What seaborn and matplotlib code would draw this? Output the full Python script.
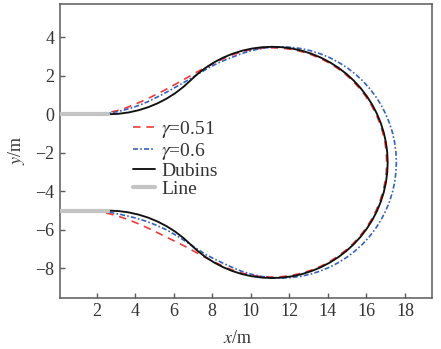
import matplotlib
matplotlib.use("Agg")
import matplotlib.pyplot as plt
import pandas as pd
import seaborn as sns

# ---- path coordinates (m) ----
dubins_x = [2.6, 3.129, 3.654, 4.171, 4.676, 5.165, 5.635, 6.082, 6.502, 6.877,
            7.243, 7.659, 8.1, 8.564, 9.048, 9.547, 10.058, 10.577, 11.1,
            11.623, 12.142, 12.653, 13.152, 13.636, 14.1, 14.541, 14.957, 15.343,
            15.696, 16.015, 16.296, 16.538, 16.738, 16.896, 17.009, 17.077, 17.1,
            17.077, 17.009, 16.896, 16.738, 16.538, 16.296, 16.015, 15.696, 15.343,
            14.957, 14.541, 14.1, 13.636, 13.152, 12.653, 12.142, 11.623, 11.1,
            10.577, 10.058, 9.547, 9.048, 8.564, 8.1, 7.659, 7.243,
            6.877, 6.502, 6.082, 5.635, 5.165, 4.676, 4.171, 3.654, 3.129, 2.6]
dubins_y = [0.0, 0.023, 0.092, 0.207, 0.366, 0.569, 0.813, 1.097, 1.420, 1.763,
            2.096, 2.415, 2.696, 2.938, 3.138, 3.296, 3.409, 3.477, 3.5,
            3.477, 3.409, 3.296, 3.138, 2.938, 2.696, 2.415, 2.096, 1.743,
            1.357, 0.941, 0.5, 0.036, -0.448, -0.947, -1.458, -1.977, -2.5,
            -3.023, -3.542, -4.053, -4.552, -5.036, -5.5, -5.941, -6.357, -6.743,
            -7.096, -7.415, -7.696, -7.938, -8.138, -8.296, -8.409, -8.477, -8.5,
            -8.477, -8.409, -8.296, -8.138, -7.938, -7.696, -7.415, -7.096,
            -6.763, -6.420, -6.097, -5.813, -5.569, -5.366, -5.207, -5.092, -5.023, -5.0]

gamma051_x = [0.0, 1.2, 1.8, 2.2, 2.7, 3.21, 3.7, 4.25, 4.75, 5.28, 5.8, 6.32, 6.85,
              7.36, 7.85, 8.307, 8.586, 9.065, 9.56, 10.067, 10.581, 11.1,
              11.619, 12.133, 12.64, 13.135, 13.614, 14.075, 14.513, 14.925, 15.307,
              15.658, 15.974, 16.253, 16.493, 16.691, 16.847, 16.960, 17.027, 17.05,
              17.027, 16.960, 16.847, 16.691, 16.493, 16.253, 15.974, 15.658, 15.307,
              14.925, 14.513, 14.075, 13.614, 13.135, 12.64, 12.133, 11.619, 11.1,
              10.581, 10.067, 9.56, 9.065, 8.7, 8.39, 7.95, 7.53, 7.1, 6.67, 6.15,
              5.63, 5.1, 4.6, 4.08, 3.56, 3.05, 2.6, 2.2, 1.8, 1.2, 0.0]
gamma051_y = [0.0, 0.0, 0.02, 0.05, 0.11, 0.22, 0.4, 0.63, 0.86, 1.12, 1.4, 1.69, 1.99,
              2.28, 2.52, 2.753, 2.893, 3.091, 3.247, 3.360, 3.427, 3.45,
              3.427, 3.360, 3.247, 3.091, 2.893, 2.653, 2.374, 2.058, 1.707,
              1.325, 0.913, 0.475, 0.014, -0.465, -0.960, -1.467, -1.981, -2.5,
              -3.019, -3.533, -4.040, -4.535, -5.014, -5.475, -5.913, -6.325, -6.707,
              -7.058, -7.374, -7.653, -7.893, -8.091, -8.247, -8.360, -8.427, -8.45,
              -8.427, -8.360, -8.247, -8.091, -7.955, -7.8, -7.6, -7.38, -7.14, -6.9,
              -6.64, -6.38, -6.12, -5.88, -5.65, -5.44, -5.27, -5.15, -5.08, -5.03,
              -5.0, -5.0]

gamma06_x = [0.0, 2.0, 2.35, 2.7, 3.1, 3.5, 3.9, 4.25, 4.65, 5.0, 5.4, 5.8, 6.3, 6.85,
             7.35, 7.87, 8.3, 8.7, 9.302, 9.498, 9.997, 10.508, 11.027, 11.55,
             12.073, 12.592, 13.103, 13.602, 14.086, 14.55, 14.991, 15.407, 15.793,
             16.146, 16.465, 16.746, 16.988, 17.188, 17.346, 17.459, 17.527, 17.55,
             17.527, 17.459, 17.346, 17.188, 16.988, 16.746, 16.465, 16.146, 15.793,
             15.407, 14.991, 14.55, 14.086, 13.602, 13.103, 12.592, 12.073, 11.55,
             11.027, 10.508, 9.997, 9.498, 9.014, 8.74, 8.2, 7.7, 7.2, 6.67, 6.15,
             5.63, 5.1, 4.59, 4.08, 3.56, 3.1, 2.7, 2.3, 2.0, 0.0]
gamma06_y = [0.0, 0.0, 0.03, 0.07, 0.14, 0.24, 0.36, 0.48, 0.65, 0.82, 1.02, 1.24, 1.52,
             1.84, 2.14, 2.44, 2.66, 2.83, 3.063, 3.138, 3.296, 3.409, 3.477, 3.5,
             3.477, 3.409, 3.296, 3.138, 2.938, 2.696, 2.415, 2.096, 1.743,
             1.357, 0.941, 0.5, 0.036, -0.448, -0.947, -1.458, -1.977, -2.5,
             -3.023, -3.542, -4.053, -4.552, -5.036, -5.5, -5.941, -6.357, -6.743,
             -7.096, -7.415, -7.696, -7.938, -8.138, -8.296, -8.409, -8.477, -8.5,
             -8.477, -8.409, -8.296, -8.138, -7.938, -7.815, -7.56, -7.3, -6.98, -6.63,
             -6.3, -6.0, -5.76, -5.56, -5.4, -5.27, -5.17, -5.09, -5.03, -5.0, -5.0]

line_x = [0.0, 2.6, 0.0, 2.6]
line_y = [0.0, 0.0, -5.0, -5.0]
line_seg = [0, 0, 1, 1]

x_ticks = [2, 4, 6, 8, 10, 12, 14, 16, 18]
y_ticks = [-8, -6, -4, -2, 0, 2, 4]

# ---- style ----
sns.set_style("ticks")
plt.rcParams["font.family"] = ["Liberation Serif", "DejaVu Serif"]
plt.rcParams["mathtext.fontset"] = "stix"

fig = plt.figure(figsize=(4.41, 3.49), dpi=100)
ax = fig.add_axes([0.1361, 0.147, 0.8435, 0.8415])

red = "#ee3a3a"
blue = "#3562bf"
axis_grey = "#5a5a5a"

sns.lineplot(x=gamma051_x, y=gamma051_y, sort=False, estimator=None, ax=ax,
             color=red, lw=1.2, linestyle=(0, (4.5, 3.5)), label=r"$\gamma$=0.51")
sns.lineplot(x=gamma06_x, y=gamma06_y, sort=False, estimator=None, ax=ax,
             color=blue, lw=1.2, linestyle=(0, (3, 1.3, 1, 1.3)), label=r"$\gamma$=0.6")
sns.lineplot(x=dubins_x, y=dubins_y, sort=False, estimator=None, ax=ax,
             color="#111111", lw=1.35, label="Dubins")
line_df = pd.DataFrame({"x": line_x, "y": line_y, "seg": line_seg})
sns.lineplot(data=line_df, x="x", y="y", units="seg", sort=False, estimator=None,
             ax=ax, color="#c4c4c4", lw=3.0, label="Line", zorder=4)

ax.set_xlim(0.1, 19.4)
ax.set_ylim(-9.52, 5.72)
ax.set_xticks(x_ticks)
ax.set_yticks(y_ticks)
ax.set_yticklabels([str(v).replace("-", "\u2212") for v in y_ticks])

for side in ["top", "right", "bottom", "left"]:
    ax.spines[side].set_visible(True)
    ax.spines[side].set_color(axis_grey)
    ax.spines[side].set_linewidth(1.1)

ax.tick_params(axis="both", direction="in", length=3.5, width=1.0, color=axis_grey,
               labelsize=13, labelcolor="#333333", top=False, right=False)
ax.tick_params(axis="x", pad=4)
ax.tick_params(axis="y", pad=4)

ax.set_xlabel(r"$\mathit{x}$/m", fontsize=13, color="#333333")
ax.set_ylabel(r"$\mathit{y}$/m", fontsize=13, color="#333333")
ax.xaxis.set_label_coords(0.478, -0.11)
ax.yaxis.set_label_coords(-0.088, 0.5)

handles, labels = ax.get_legend_handles_labels()
leg = ax.legend(handles[:4], labels[:4], loc="upper left", bbox_to_anchor=(0.196, 0.608),
                frameon=False, fontsize=14, handlelength=1.15, handletextpad=0.3,
                labelspacing=0.03, borderpad=0.0, borderaxespad=0.0)
for t in leg.get_texts():
    t.set_color("#333333")

fig.savefig("out.png", dpi=100)
